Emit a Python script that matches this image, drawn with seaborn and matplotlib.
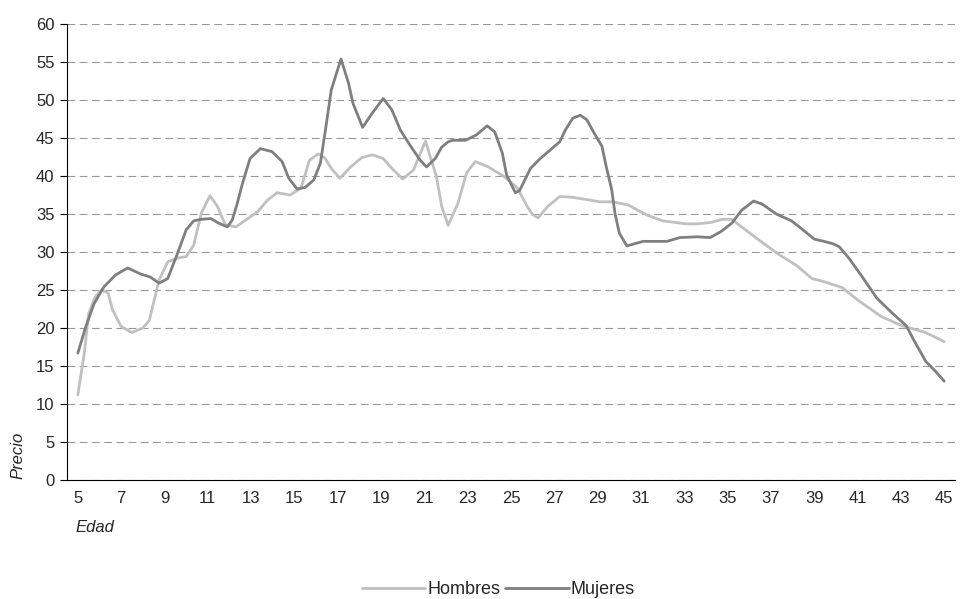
import numpy as np
import pandas as pd
import seaborn as sns
import matplotlib.pyplot as plt

# values (edad, precio)
edad_hombres = [5.0, 5.3, 5.5, 5.8, 6.1, 6.4, 6.6, 7.0, 7.5, 8.0, 8.3, 8.45, 8.75,
                9.15, 9.6, 10.0, 10.35, 10.7, 11.1, 11.45, 11.8, 12.3, 12.75, 13.3,
                13.75, 14.2, 14.8, 15.3, 15.7, 16.1, 16.4, 16.7, 17.1, 17.6, 18.1,
                18.6, 19.1, 19.5, 20.0, 20.5, 21.05, 21.55, 21.8, 22.1, 22.55, 22.95,
                23.35, 23.95, 24.7, 25.3, 25.75, 26.0, 26.25, 26.7, 27.25, 27.85,
                28.5, 29.1, 29.7, 30.4, 31.25, 32.0, 33.1, 33.6, 34.25, 34.75, 35.2,
                35.65, 36.25, 37.3, 38.2, 38.9, 39.45, 40.3, 41.0, 42.1, 43.05,
                44.15, 45.0]
precio_hombres = [11.2, 16.7, 21.9, 24.1, 25.0, 24.6, 22.4, 20.2, 19.4, 20.0, 21.0,
                  22.8, 26.3, 28.7, 29.2, 29.4, 30.9, 35.1, 37.4, 36.0, 33.6, 33.3,
                  34.2, 35.3, 36.8, 37.8, 37.5, 38.4, 42.1, 42.9, 42.4, 41.0, 39.7,
                  41.2, 42.4, 42.8, 42.3, 41.0, 39.6, 40.8, 44.6, 40.0, 36.0, 33.5,
                  36.4, 40.4, 41.9, 41.2, 39.9, 38.4, 36.0, 34.9, 34.5, 36.0, 37.3,
                  37.2, 36.9, 36.6, 36.6, 36.2, 34.9, 34.1, 33.7, 33.7, 33.9, 34.3,
                  34.3, 33.3, 32.0, 29.8, 28.2, 26.5, 26.1, 25.3, 23.7, 21.5, 20.3,
                  19.4, 18.2]

edad_mujeres = [5.0, 5.37, 5.75, 6.2, 6.75, 7.3, 7.9, 8.35, 8.75, 9.15, 9.6, 10.0,
                10.35, 10.7, 11.14, 11.5, 11.9, 12.13, 12.36, 12.6, 12.95, 13.43,
                13.97, 14.43, 14.74, 15.12, 15.5, 15.9, 16.2, 16.43, 16.7, 17.15,
                17.5, 17.7, 18.15, 18.6, 19.1, 19.5, 19.9, 20.35, 20.8, 21.1, 21.5,
                21.8, 22.1, 22.3, 22.9, 23.4, 23.9, 24.25, 24.6, 24.8, 25.2, 25.4,
                25.9, 26.35, 27.25, 27.5, 27.85, 28.2, 28.5, 28.85, 29.2, 29.4,
                29.65, 29.8, 30.0, 30.35, 31.1, 32.2, 32.8, 33.6, 34.2, 34.7, 35.2,
                35.65, 36.2, 36.6, 37.25, 37.95, 38.4, 39.0, 39.45, 39.85, 40.15,
                40.6, 41.2, 41.9, 42.55, 43.25, 43.6, 44.15, 44.6, 45.0]
precio_mujeres = [16.7, 20.2, 23.2, 25.4, 27.0, 27.9, 27.1, 26.7, 25.9, 26.5, 29.8,
                  32.9, 34.1, 34.3, 34.4, 33.8, 33.3, 34.2, 36.4, 39.0, 42.3, 43.6,
                  43.2, 41.9, 39.7, 38.3, 38.5, 39.5, 41.7, 46.0, 51.3, 55.4, 52.2,
                  49.6, 46.4, 48.3, 50.2, 48.7, 46.0, 44.0, 42.1, 41.2, 42.3, 43.8,
                  44.5, 44.7, 44.7, 45.4, 46.6, 45.8, 43.0, 40.1, 37.8, 38.1, 41.0,
                  42.3, 44.5, 46.0, 47.6, 48.0, 47.4, 45.6, 43.9, 41.2, 38.2, 35.1,
                  32.5, 30.8, 31.4, 31.4, 31.9, 32.0, 31.9, 32.7, 33.8, 35.5, 36.7,
                  36.3, 35.0, 34.1, 33.1, 31.7, 31.4, 31.1, 30.7, 29.2, 26.8, 23.9,
                  22.1, 20.3, 18.4, 15.6, 14.3, 13.0]

x_labels = list(range(5, 46, 2))
y_ticks = list(range(0, 61, 5))

df = pd.concat([
    pd.DataFrame({"Edad": edad_hombres, "Precio": precio_hombres, "Serie": "Hombres"}),
    pd.DataFrame({"Edad": edad_mujeres, "Precio": precio_mujeres, "Serie": "Mujeres"}),
])

sns.set_style("white")
plt.rcParams["font.family"] = ["Liberation Sans", "DejaVu Sans"]

fig = plt.figure(figsize=(9.62, 5.99), dpi=100)
ax = fig.add_axes([67 / 962, 1 - 480 / 599, 888 / 962, 456 / 599])

sns.lineplot(data=df, x="Edad", y="Precio", hue="Serie", estimator=None, sort=False,
             palette={"Hombres": "#c0c0c0", "Mujeres": "#7f7f7f"},
             linewidth=2.0, ax=ax, legend=False)
for ln in ax.lines:
    ln.set_solid_joinstyle("round")

ax.set_xlim(4.5, 45.5)
ax.set_ylim(0, 60)
ax.set_yticks(y_ticks)
ax.set_xticks(x_labels)
ax.set_xticks(np.arange(4.5, 45.6, 1), minor=True)
ax.tick_params(axis="x", which="major", length=0, pad=8, labelsize=12)
ax.tick_params(axis="x", which="minor", length=5, width=0.8, color="#000000", direction="out")
ax.tick_params(axis="y", length=5, width=0.8, color="#000000", direction="out", left=True, labelsize=12, pad=4)

ax.yaxis.grid(True, linestyle=(0, (7, 4)), color="#999999", linewidth=0.8)
ax.set_axisbelow(True)
for s in ["top", "right"]:
    ax.spines[s].set_visible(False)
ax.spines["left"].set_color("#000000")
ax.spines["left"].set_linewidth(0.8)
ax.spines["bottom"].set_color("#000000")
ax.spines["bottom"].set_linewidth(0.8)
ax.set_xlabel("")
ax.set_ylabel("")

fig.text(18 / 962, 1 - 455 / 599, "Precio", rotation=90, ha="center", va="center",
         style="italic", fontsize=12)
fig.text(75 / 962, 1 - 527 / 599, "Edad", ha="left", va="center",
         style="italic", fontsize=12)

handles = [plt.Line2D([], [], color="#c0c0c0", lw=2.0),
           plt.Line2D([], [], color="#7f7f7f", lw=2.0)]
fig.legend(handles, ["Hombres", "Mujeres"], loc="center", bbox_to_anchor=(0.518, 1 - 590 / 599),
           ncol=2, frameon=False, fontsize=13, handlelength=3.5, handletextpad=0.1,
           columnspacing=0.3)

fig.savefig("out.png", dpi=100)
